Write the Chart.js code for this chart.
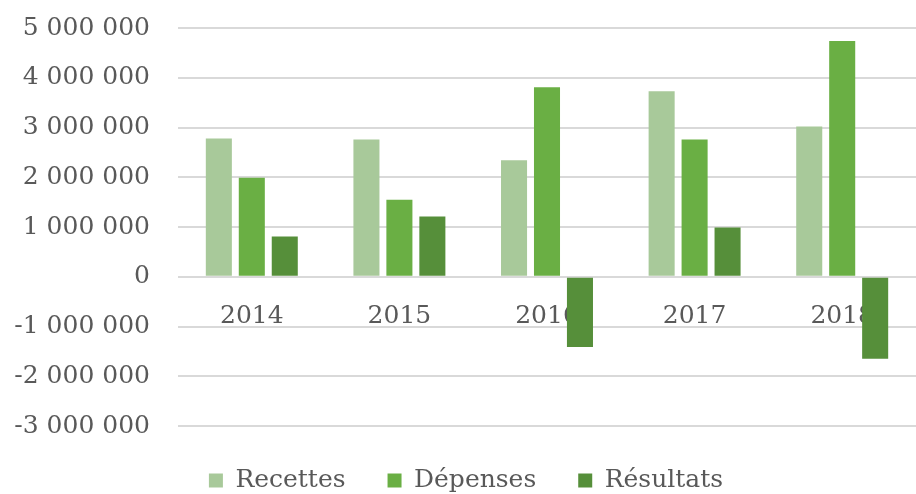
<!DOCTYPE html>
<html>
<head>
<meta charset="utf-8">
<script src="https://cdn.jsdelivr.net/npm/chart.js@4/dist/chart.umd.min.js"></script>
<style>
  html, body { margin: 0; padding: 0; background: #fff; }
  #wrap { width: 916px; height: 494px; position: relative; }
</style>
</head>
<body>
<div id="wrap"><canvas id="budgetChart"></canvas></div>
<script>
const years = ["2014", "2015", "2016", "2017", "2018"];
const recettes = [2780000, 2760000, 2340000, 3730000, 3020000];
const depenses = [1990000, 1550000, 3810000, 2760000, 4740000];
const resultats = [810000, 1210000, -1410000, 990000, -1650000];
const yTicks = [-3000000, -2000000, -1000000, 0, 1000000, 2000000, 3000000, 4000000, 5000000];

const serif = "'DejaVu Serif', serif";
const textColor = "#595959";

function formatNumber(v) {
  const neg = v < 0;
  const s = String(Math.abs(v)).replace(/\B(?=(\d{3})+(?!\d))/g, " ");
  return (neg ? "-" : "") + s;
}

let ctx = document.getElementById("budgetChart").getContext("2d");

let budgetChart = new Chart(ctx, {
  type: "bar",
  data: {
    labels: years,
    datasets: [
      { label: "Recettes", data: recettes, backgroundColor: "#a8c99a" },
      { label: "Dépenses", data: depenses, backgroundColor: "#6aaf44" },
      { label: "Résultats", data: resultats, backgroundColor: "#568f3a" },
    ],
  },
  options: {
    responsive: true,
    maintainAspectRatio: false,
    animation: false,
    categoryPercentage: 0.67,
    barPercentage: 0.79,
    layout: {
      padding: { left: 8, right: -8, top: 28, bottom: -9 },
    },
    plugins: {
      tooltip: { enabled: false },
      legend: {
        position: "bottom",
        labels: {
          boxWidth: 14,
          boxHeight: 14,
          padding: 42,
          color: textColor,
          font: { family: serif, size: 25 },
        },
      },
    },
    scales: {
      x: {
        position: { y: 0 },
        grid: { display: false, drawTicks: false },
        border: { display: false },
        ticks: {
          padding: 25,
          color: textColor,
          font: { family: serif, size: 25 },
        },
      },
      y: {
        min: -3000000,
        max: 5000000,
        afterBuildTicks: (axis) => {
          axis.ticks = yTicks.map((v) => ({ value: v }));
        },
        afterFit: (axis) => {
          axis.width = 170;
        },
        grid: {
          color: "#d9d9d9",
          lineWidth: 2,
          drawTicks: true,
          tickLength: 28,
          tickColor: "rgba(0,0,0,0)",
        },
        border: { display: false },
        ticks: {
          padding: 0,
          color: textColor,
          font: { family: serif, size: 25 },
          callback: (v) => formatNumber(v),
        },
      },
    },
  },
});
</script>
</body>
</html>
